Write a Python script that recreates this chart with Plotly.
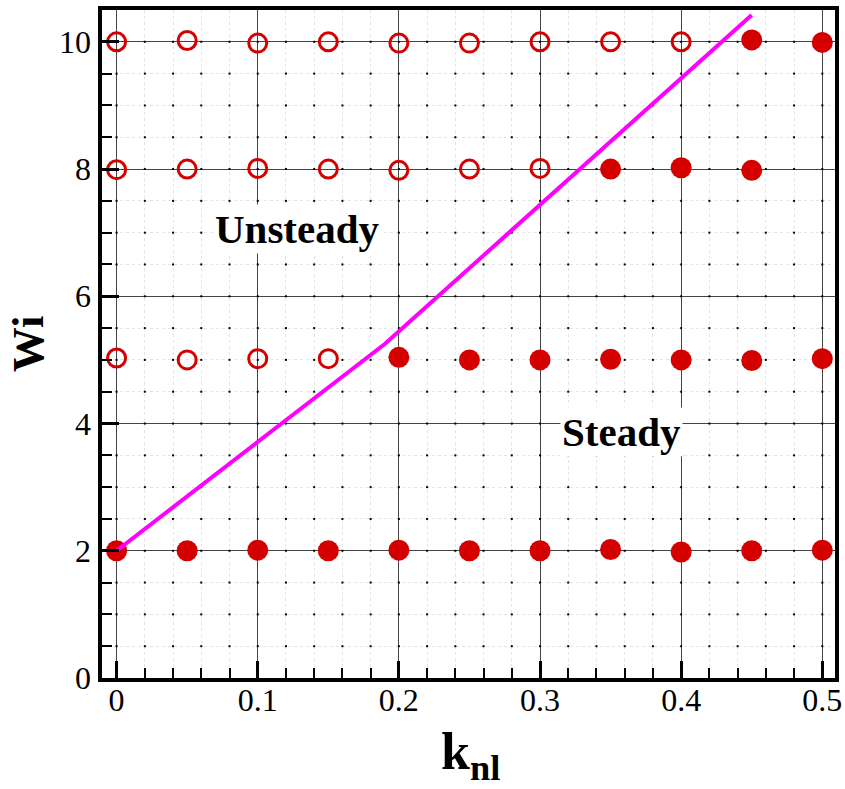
import numpy as np
import plotly.graph_objects as go

# ---- data ----
k_levels = [0.0, 0.05, 0.10, 0.15, 0.20, 0.25, 0.30, 0.35, 0.40, 0.45, 0.50]

# Unsteady cases (open circles)
unsteady_k = [0.0, 0.05, 0.10, 0.15, 0.20, 0.25, 0.30, 0.35, 0.40,
              0.0, 0.05, 0.10, 0.15, 0.20, 0.25, 0.30,
              0.0, 0.05, 0.10, 0.15]
unsteady_wi = [10.0, 10.02, 9.98, 10.0, 9.98, 9.98, 10.0, 10.0, 10.0,
               7.99, 8.0, 8.01, 8.0, 7.98, 8.0, 8.01,
               5.03, 5.0, 5.02, 5.02]

# Steady cases (filled circles)
steady_k = [0.45, 0.50,
            0.35, 0.40, 0.45,
            0.20, 0.25, 0.30, 0.35, 0.40, 0.45, 0.50,
            0.0, 0.05, 0.10, 0.15, 0.20, 0.25, 0.30, 0.35, 0.40, 0.45, 0.50]
steady_wi = [10.03, 9.99,
             8.0, 8.02, 7.98,
             5.04, 5.0, 5.0, 5.01, 5.0, 4.99, 5.02,
             2.0, 2.0, 2.01, 2.0, 2.01, 2.0, 2.0, 2.02, 1.98, 2.0, 2.01]

# Stability boundary
boundary_k = [0.0, 0.18, 0.19, 0.45]
boundary_wi = [2.0, 5.08, 5.25, 10.42]

x_ticks = [0, 0.1, 0.2, 0.3, 0.4, 0.5]
x_tick_labels = ["0", "0.1", "0.2", "0.3", "0.4", "0.5"]
y_ticks = [0, 2, 4, 6, 8, 10]
y_tick_labels = ["0", "2", "4", "6", "8", "10"]

X_RANGE = [-0.0104, 0.509]
Y_RANGE = [0, 10.5]
X_MINOR = 0.02
Y_MINOR = 0.5

RED = "#d40000"
SERIF = "Liberation Serif"

# layout geometry (pixels)
W, H = 845, 789
ML, MR, MT, MB = 80, 7, 6, 111
PW = W - ML - MR
PH = H - MT - MB
PLOT_LEFT = 102
X_DOMAIN0 = (PLOT_LEFT - ML) / PW

fig = go.Figure()

# minor-grid intersection dots (Tecplot-style dotted grid)
gx = np.round(np.arange(0, X_RANGE[1], X_MINOR), 4)
gy = np.round(np.arange(Y_MINOR, Y_RANGE[1], Y_MINOR), 4)
GX, GY = np.meshgrid(gx, gy)
fig.add_trace(go.Scatter(
    x=GX.ravel(), y=GY.ravel(), mode="markers",
    marker=dict(symbol="square", size=2, color="black", line=dict(width=0)),
    hoverinfo="skip", showlegend=False))

fig.add_trace(go.Scatter(
    x=unsteady_k, y=unsteady_wi, mode="markers",
    marker=dict(symbol="circle-open", size=18, color=RED, line=dict(width=3, color=RED)),
    showlegend=False, name="Unsteady"))
fig.add_trace(go.Scatter(
    x=steady_k, y=steady_wi, mode="markers",
    marker=dict(symbol="circle", size=21, color=RED, line=dict(width=0)),
    showlegend=False, name="Steady"))
fig.add_trace(go.Scatter(
    x=boundary_k, y=boundary_wi, mode="lines",
    line=dict(color="#ff00ff", width=4),
    showlegend=False, name="Boundary"))
# empty trace to create the label-only overlay axes
fig.add_trace(go.Scatter(x=[], y=[], xaxis="x2", yaxis="y2",
                         showlegend=False, hoverinfo="skip"))

fig.add_annotation(x=0.128, y=7.06, text="<b>Unsteady</b>", showarrow=False,
                   font=dict(family=SERIF, size=41, color="black"), bgcolor="white")
fig.add_annotation(x=0.358, y=3.86, text="<b>Steady</b>", showarrow=False,
                   font=dict(family=SERIF, size=41, color="black"), bgcolor="white")

# axis titles
fig.add_annotation(xref="paper", yref="paper", x=(472 - ML) / PW, y=0,
                   xanchor="center", yanchor="middle", yshift=-77,
                   text="<b>k<sub>nl</sub></b>", showarrow=False,
                   font=dict(family=SERIF, size=52, color="black"))
fig.add_annotation(xref="paper", yref="paper", x=(28 - ML) / PW, y=0.5,
                   xanchor="center", yanchor="middle", textangle=-90,
                   text="<b>Wi</b>", showarrow=False,
                   font=dict(family=SERIF, size=45, color="black"))

common_minor_grid = dict(tick0=0, ticks="inside", ticklen=10, tickwidth=1.5,
                         tickcolor="black", showgrid=True, gridcolor="#e4e4e4",
                         griddash="dot", gridwidth=1)

fig.update_layout(
    width=W, height=H,
    margin=dict(l=ML, r=MR, t=MT, b=MB),
    plot_bgcolor="white", paper_bgcolor="white",
    xaxis=dict(
        domain=[X_DOMAIN0, 1], range=X_RANGE,
        tickmode="array", tickvals=x_ticks, showticklabels=False,
        ticks="inside", ticklen=17, tickwidth=3, tickcolor="black",
        showline=True, linewidth=4, linecolor="black", mirror=True,
        showgrid=True, gridcolor="#444", gridwidth=1, zeroline=False,
        minor=dict(dtick=X_MINOR, **common_minor_grid),
    ),
    yaxis=dict(
        range=Y_RANGE,
        tickmode="array", tickvals=y_ticks, showticklabels=False,
        ticks="inside", ticklen=17, tickwidth=3, tickcolor="black",
        showline=True, linewidth=4, linecolor="black", mirror=True,
        showgrid=True, gridcolor="#444", gridwidth=1, zeroline=False,
        minor=dict(dtick=Y_MINOR, **common_minor_grid),
    ),
    # label-only axes, placed to match the reference label positions
    xaxis2=dict(
        overlaying="x", anchor="free", position=0.0, side="bottom",
        domain=[X_DOMAIN0, 1], range=X_RANGE,
        tickmode="array", tickvals=x_ticks, ticktext=x_tick_labels,
        ticks="", showline=False, showgrid=False, zeroline=False,
        automargin=False,
        tickfont=dict(family=SERIF, size=32, color="black"),
    ),
    yaxis2=dict(
        overlaying="y", anchor="free", position=(91 - ML) / PW, side="left",
        range=Y_RANGE,
        tickmode="array", tickvals=y_ticks, ticktext=y_tick_labels,
        ticks="", showline=False, showgrid=False, zeroline=False,
        automargin=False,
        tickfont=dict(family=SERIF, size=32, color="black"),
    ),
)

fig.write_html("out.html")
